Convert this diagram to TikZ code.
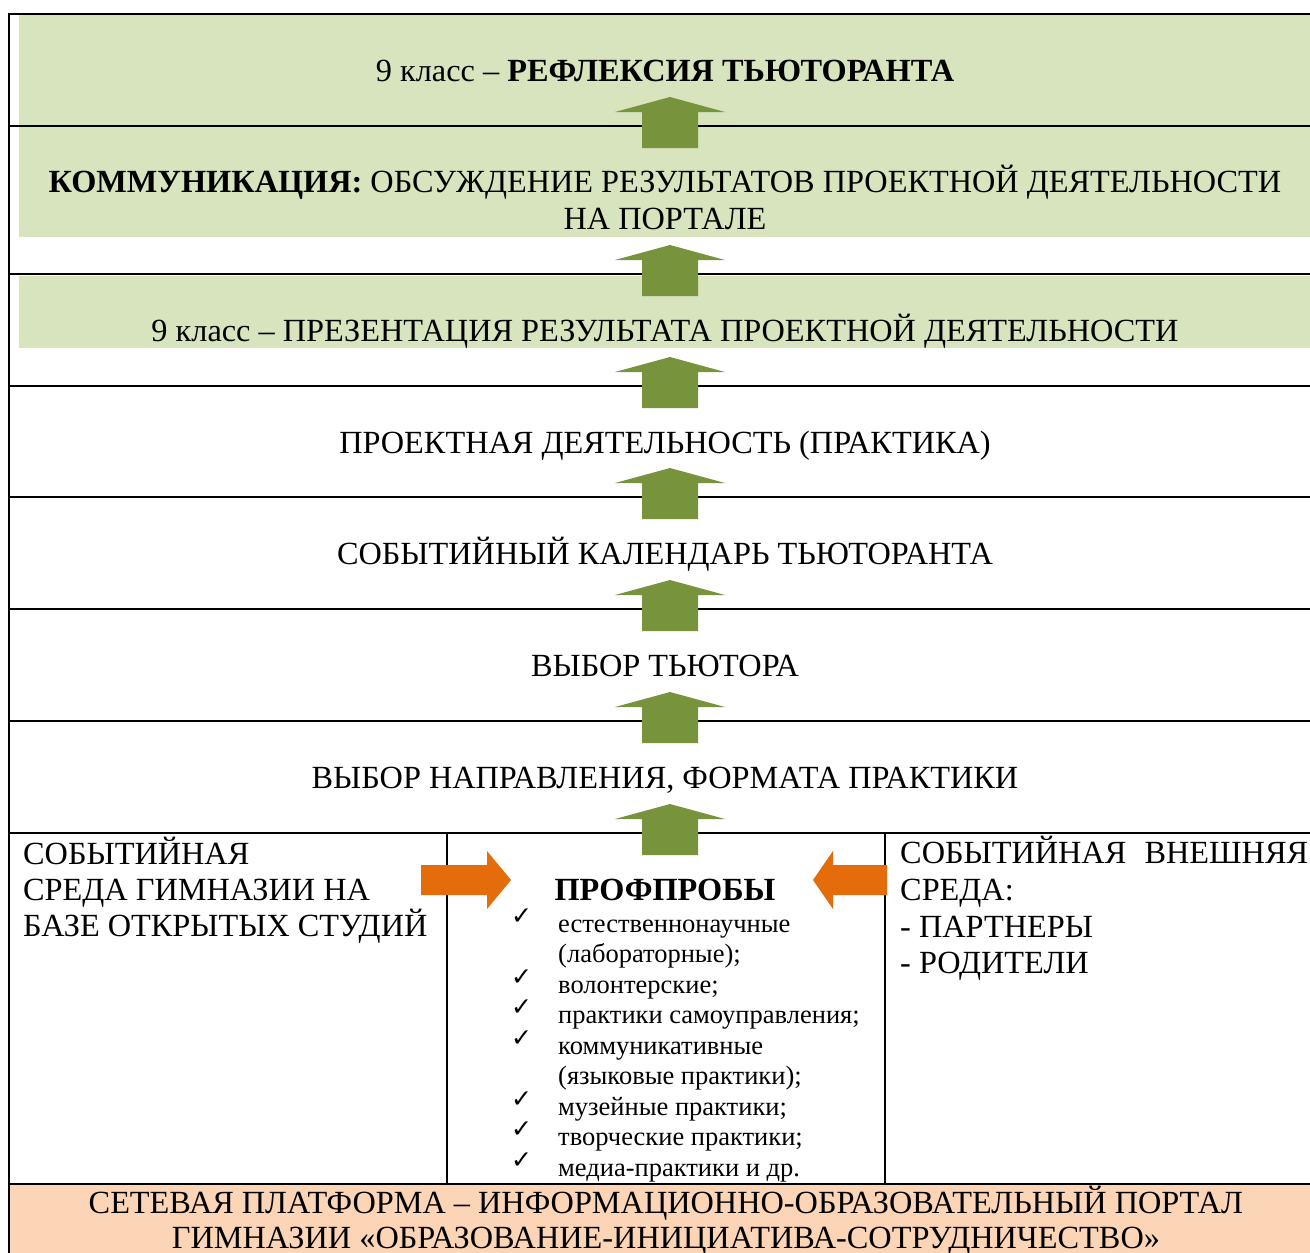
\documentclass[tikz,border=0pt]{standalone}
\usepackage{fontspec}
\setmainfont{Liberation Serif}
\newfontfamily\symfont{DejaVu Sans}
\definecolor{lgreen}{HTML}{D7E4BD}
\definecolor{dgreen}{HTML}{77933C}
\definecolor{orng}{HTML}{E46C0A}
\definecolor{lorng}{HTML}{FBD5B5}
\newcommand\greenup[1]{%
  \begin{scope}[shift={(#1)}]
    \fill[dgreen] (-28,22) -- (-28,-14) -- (-55,-14) -- (0,-29) -- (55,-14) -- (28,-14) -- (28,22) -- cycle;
  \end{scope}}
\begin{document}
\begin{tikzpicture}[x=1pt,y=-1pt,
  grid/.style={line width=1.6pt, black},
  main/.style={anchor=base, inner sep=0pt, font=\fontsize{32.3}{37}\selectfont},
  mainl/.style={main, anchor=base west},
  item/.style={anchor=base west, inner sep=0pt, font=\fontsize{26.5}{30}\selectfont},
  chk/.style={anchor=base west, inner sep=0pt, font=\fontsize{25}{28}\symfont}]
\useasboundingbox (0,0) rectangle (1310,1253);
% fills
\fill[lgreen] (19,15) rectangle (1310,125);
\fill[lgreen] (19,127) rectangle (1310,237);
\fill[lgreen] (19,276) rectangle (1310,348);
\fill[lorng] (10,1185) rectangle (1310,1253);
% grid
\draw[grid] (1310,14) -- (9,14) -- (9,1253);
\foreach \yy in {126,274,386,497,609,721,833,1184}
  \draw[grid] (9,\yy) -- (1310,\yy);
\draw[grid] (447,833) -- (447,1184);
\draw[grid] (885,833) -- (885,1184);
% boundary coordinates
\coordinate (b1) at (670,126);
\coordinate (b2) at (670,274);
\coordinate (b3) at (670,386);
\coordinate (b4) at (670,497);
\coordinate (b5) at (670,609);
\coordinate (b6) at (670,721);
\coordinate (b7) at (670,833);
\foreach \b in {b1,b2,b3,b4,b5,b6,b7} \greenup{\b};
% orange arrows
\coordinate (la) at (421,880);
\coordinate (ra) at (887,880);
\fill[orng] (la) ++(0,-15) -- ++(66,0) -- ++(0,-14) -- ++(24,29) -- ++(-24,29) -- ++(0,-14) -- ++(-66,0) -- cycle;
\fill[orng] (ra) ++(0,-15) -- ++(-54,0) -- ++(0,-14) -- ++(-20,29) -- ++(20,29) -- ++(0,-14) -- ++(54,0) -- cycle;
% texts
\node[main] (t1) at (665,81) {9 класс – \textbf{РЕФЛЕКСИЯ ТЬЮТОРАНТА}};
\node[main] (t2a) at (665,192) {\textbf{КОММУНИКАЦИЯ:} ОБСУЖДЕНИЕ РЕЗУЛЬТАТОВ ПРОЕКТНОЙ ДЕЯТЕЛЬНОСТИ};
\node[main] (t2b) at (665,229) {НА ПОРТАЛЕ};
\node[main] (t3) at (665,341) {9 класс – ПРЕЗЕНТАЦИЯ РЕЗУЛЬТАТА ПРОЕКТНОЙ ДЕЯТЕЛЬНОСТИ};
\node[main] (t4) at (665,453) {ПРОЕКТНАЯ ДЕЯТЕЛЬНОСТЬ (ПРАКТИКА)};
\node[main] (t5) at (665,564) {СОБЫТИЙНЫЙ КАЛЕНДАРЬ ТЬЮТОРАНТА};
\node[main] (t6) at (665,676) {ВЫБОР ТЬЮТОРА};
\node[main] (t7) at (665,788) {ВЫБОР НАПРАВЛЕНИЯ, ФОРМАТА ПРАКТИКИ};
% left column
\node[mainl] (l1) at (23,864) {СОБЫТИЙНАЯ};
\node[mainl] (l2) at (23,900) {СРЕДА ГИМНАЗИИ НА};
\node[mainl] (l3) at (23,936) {БАЗЕ ОТКРЫТЫХ СТУДИЙ};
% right column
\node[mainl] (r1) at (900,863) {\makebox[408pt][s]{СОБЫТИЙНАЯ ВНЕШНЯЯ}};
\node[mainl] (r2) at (900,900) {СРЕДА:};
\node[mainl] (r3) at (900,937) {- ПАРТНЕРЫ};
\node[mainl] (r4) at (900,973) {- РОДИТЕЛИ};
% middle column
\node[main] (pp) at (665,900) {\textbf{ПРОФПРОБЫ}};
\node[chk] (c1) at (511,924) {✓};
\node[item] (i1) at (558,932) {естественнонаучные};
\node[item] (i1b) at (558,962.5) {(лабораторные);};
\node[chk] (c2) at (511,985) {✓};
\node[item] (i2) at (558,993) {волонтерские;};
\node[chk] (c3) at (511,1015.5) {✓};
\node[item] (i3) at (558,1023.5) {практики самоуправления;};
\node[chk] (c4) at (511,1046) {✓};
\node[item] (i4) at (558,1054) {коммуникативные};
\node[item] (i4b) at (558,1084.5) {(языковые практики);};
\node[chk] (c5) at (511,1107) {✓};
\node[item] (i5) at (558,1115) {музейные практики;};
\node[chk] (c6) at (511,1137.5) {✓};
\node[item] (i6) at (558,1145.5) {творческие практики;};
\node[chk] (c7) at (511,1168) {✓};
\node[item] (i7) at (558,1176) {медиа-практики и др.};
% bottom
\node[main] (s1) at (666,1213) {СЕТЕВАЯ ПЛАТФОРМА – ИНФОРМАЦИОННО-ОБРАЗОВАТЕЛЬНЫЙ ПОРТАЛ};
\node[main] (s2) at (666,1248) {ГИМНАЗИИ «ОБРАЗОВАНИЕ-ИНИЦИАТИВА-СОТРУДНИЧЕСТВО»};
\end{tikzpicture}
\end{document}
